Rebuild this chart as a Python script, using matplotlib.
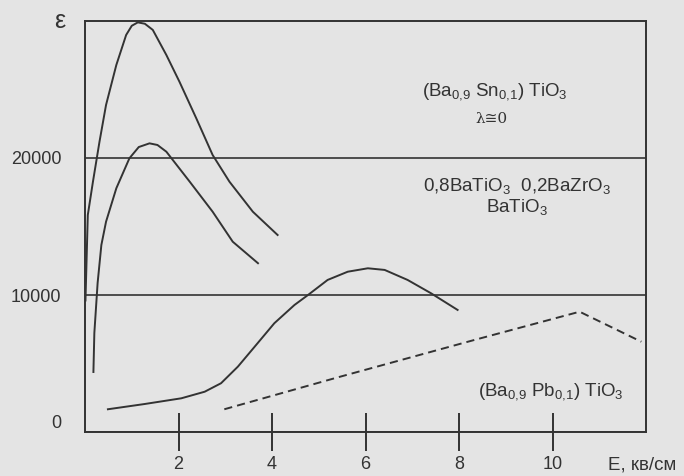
import matplotlib
matplotlib.use("Agg")
import matplotlib.pyplot as plt
import matplotlib.transforms as mtransforms

# --- data ---
sn_x = [0.01, 0.06, 0.17, 0.31, 0.45, 0.67, 0.88, 1.00, 1.13, 1.28, 1.45, 1.74, 2.02, 2.38, 2.73, 3.09, 3.59, 4.12]
sn_y = [9600, 15840, 18270, 21190, 23870, 26790, 28980, 29650, 29900, 29800, 29350, 27520, 25570, 22900, 20220, 18270, 16080, 14380]

zr_x = [0.18, 0.20, 0.27, 0.35, 0.45, 0.67, 0.95, 1.15, 1.38, 1.55, 1.74, 2.24, 2.73, 3.16, 3.70]
zr_y = [4380, 7230, 10880, 13650, 15350, 17790, 19980, 20800, 21070, 20950, 20460, 18270, 16080, 13890, 12320]

bt_x = [0.49, 1.27, 2.06, 2.56, 2.91, 3.27, 3.63, 4.05, 4.48, 4.77, 5.19, 5.62, 6.05, 6.41, 6.90, 7.40, 7.97]
bt_y = [1660, 2040, 2460, 2940, 3560, 4770, 6230, 7940, 9270, 10000, 11100, 11700, 11950, 11830, 11100, 10130, 8910]

pb_x = [2.98, 5.44, 8.33, 10.58, 11.90]
pb_y = [1660, 4020, 6720, 8780, 6590]

x_ticks = [2, 4, 6, 8, 10]
y_ticks = [0, 10000, 20000]
y_ticklabels = ["0", "10000", "20000"]

plt.rcParams['mathtext.fontset'] = 'custom'
plt.rcParams['mathtext.rm'] = 'Liberation Sans'
plt.rcParams['mathtext.it'] = 'Liberation Sans'
plt.rcParams['font.family'] = ['Liberation Sans', 'DejaVu Sans']

bg = '#e4e4e4'
ink = '#333333'

fig = plt.figure(figsize=(6.84, 4.76), dpi=100, facecolor=bg)
ax = fig.add_axes([85/684, 44/476, 561/684, 411/476])
ax.set_facecolor(bg)

lw = 1.4
ax.plot(sn_x, sn_y, color=ink, lw=lw, solid_joinstyle='round')
ax.plot(zr_x, zr_y, color=ink, lw=lw, solid_joinstyle='round')
ax.plot(bt_x, bt_y, color=ink, lw=lw, solid_joinstyle='round')
ax.plot(pb_x, pb_y, color=ink, lw=lw, ls=(0, (4.2, 2.6)))

ax.set_xlim(0, 12)
ax.set_ylim(0, 30000)

for s in ax.spines.values():
    s.set_color(ink)
    s.set_linewidth(1.4)

ax.set_xticks(x_ticks)
ax.set_xticklabels([str(v) for v in x_ticks])
ax.tick_params(axis='x', direction='inout', length=27, width=1.4, color=ink,
               labelsize=13, labelcolor=ink, pad=4)

ax.set_yticks(y_ticks)
ax.set_yticklabels(y_ticklabels)
ax.tick_params(axis='y', length=0, labelsize=13, labelcolor=ink, pad=17)
ax.grid(axis='y', color=ink, lw=1.2)
# shift the "0" label upward as in the reference
lbl0 = ax.get_yticklabels()[0]
lbl0.set_transform(lbl0.get_transform() + mtransforms.ScaledTranslation(0, 10/100, fig.dpi_scale_trans))

ax.set_xlabel("E, кв/см", fontsize=13.5, color=ink, ha='left', va='center')
ax.xaxis.set_label_coords(0.932, -0.08)
ax.set_ylabel("ε", fontsize=18, color=ink, rotation=0, ha='center', va='center')
ax.yaxis.set_label_coords(-0.045, 1.0)

tfs = 13.5
ax.text(8.76, 24820, r"(Ba$_{0{,}9}$ Sn$_{0{,}1}$) TiO$_3$", fontsize=tfs, color=ink, ha='center', va='center')
ax.text(8.70, 22850, "λ≅0", fontsize=11, color=ink, ha='center', va='center',
        family=['DejaVu Serif', 'DejaVu Sans'])
ax.text(9.24, 17960, r"0,8BaTiO$_3$  0,2BaZrO$_3$", fontsize=tfs, color=ink, ha='center', va='center')
ax.text(9.25, 16425, r"BaTiO$_3$", fontsize=tfs, color=ink, ha='center', va='center')
ax.text(9.96, 2920, r"(Ba$_{0{,}9}$ Pb$_{0{,}1}$) TiO$_3$", fontsize=tfs, color=ink, ha='center', va='center')

fig.savefig("out.png", dpi=100, facecolor=bg)
